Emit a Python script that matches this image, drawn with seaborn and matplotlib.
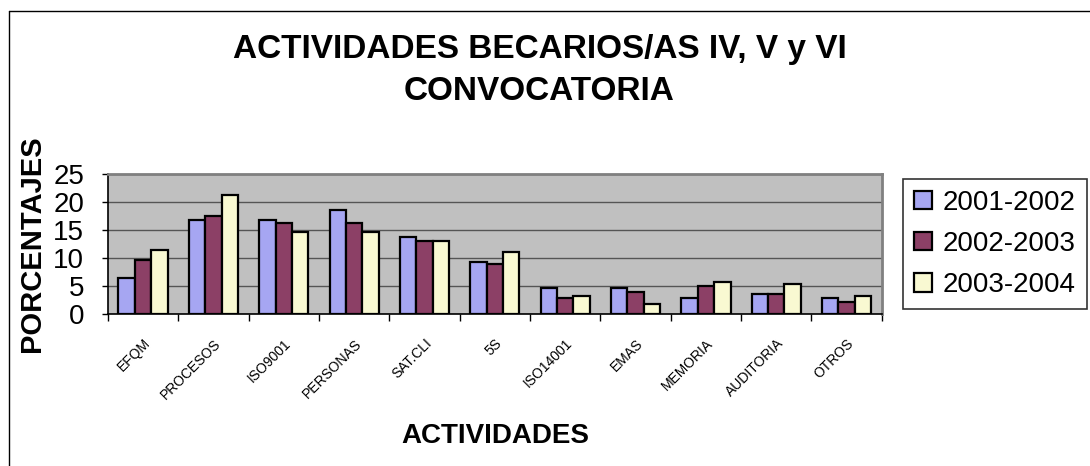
import numpy as np
import pandas as pd
import matplotlib
matplotlib.use("Agg")
import matplotlib.pyplot as plt
import seaborn as sns
from matplotlib.lines import Line2D

actividades = ["EFQM", "PROCESOS", "ISO9001", "PERSONAS", "SAT.CLI", "5S",
               "ISO14001", "EMAS", "MEMORIA", "AUDITORIA", "OTROS"]
cursos = ["2001-2002", "2002-2003", "2003-2004"]
v_2001 = [6.4, 16.7, 16.7, 18.5, 13.8, 9.2, 4.6, 4.6, 2.8, 3.6, 2.8]
v_2002 = [9.6, 17.4, 16.3, 16.3, 13.1, 8.9, 2.8, 3.9, 5.0, 3.6, 2.1]
v_2003 = [11.4, 21.3, 14.6, 14.6, 13.1, 11.0, 3.2, 1.8, 5.7, 5.3, 3.2]
colores = ["#9999FF", "#993366", "#FFFFCC"]

df = pd.DataFrame({
    "actividad": actividades * 3,
    "curso": np.repeat(cursos, len(actividades)),
    "valor": v_2001 + v_2002 + v_2003,
})

sns.set_style("white")
plt.rcParams["font.family"] = ["Liberation Sans", "DejaVu Sans"]
plt.rcParams["text.color"] = "black"
plt.rcParams["axes.labelcolor"] = "black"
plt.rcParams["xtick.color"] = "black"
plt.rcParams["ytick.color"] = "black"

fig = plt.figure(figsize=(10.9, 4.66), dpi=100)
ax = fig.add_axes([0.099, 0.326, 0.71, 0.301])
ax.set_facecolor("#C0C0C0")

sns.barplot(data=df, x="actividad", y="valor", hue="curso", palette=colores,
            width=0.7, edgecolor="black", linewidth=1.6, ax=ax, legend=True)

ax.set_ylim(0, 25)
ax.set_yticks([0, 5, 10, 15, 20, 25])
ax.set_xlim(-0.5, len(actividades) - 0.5)
ax.yaxis.grid(True, color="#555555", linewidth=1)
ax.set_axisbelow(True)
ax.tick_params(axis="y", labelsize=20, length=4, width=1, direction="out", left=True, pad=13)
ax.set_xticks(np.arange(len(actividades)))
ax.set_xticklabels(actividades, rotation=45, ha="right", rotation_mode="anchor",
                   fontsize=10)
ax.tick_params(axis="x", length=0, pad=16)
ax.set_xticks(np.arange(len(actividades) + 1) - 0.5, minor=True)
ax.tick_params(axis="x", which="minor", length=5, width=1, direction="out", bottom=True)
for s in ["left", "bottom"]:
    ax.spines[s].set_color("black")
    ax.spines[s].set_linewidth(1.2)
for s in ["top", "right"]:
    ax.spines[s].set_color("#808080")
    ax.spines[s].set_linewidth(2)

ax.set_xlabel("ACTIVIDADES", fontsize=20, fontweight="bold")
ax.set_ylabel("PORCENTAJES", fontsize=21, fontweight="bold")
ax.yaxis.set_label_coords(-0.08, 0.5)
ax.xaxis.set_label_coords(0.5, -0.78)

leg = ax.legend(loc="center left", bbox_to_anchor=(1.027, 0.5), fontsize=20,
                frameon=True, fancybox=False, edgecolor="black",
                handlelength=0.65, handleheight=0.65, labelspacing=0.55,
                borderpad=0.4, handletextpad=0.4, borderaxespad=0)
leg.get_frame().set_linewidth(1.2)

fig.text(0.495, 0.848, "ACTIVIDADES BECARIOS/AS IV, V y VI\nCONVOCATORIA",
         ha="center", va="center", fontsize=24, fontweight="bold", linespacing=1.45)

# outer chart border: only top and left edges are visible in the crop
fig.lines.append(Line2D([0.0078, 1.0], [0.976, 0.976], transform=fig.transFigure,
                        color="black", linewidth=1))
fig.lines.append(Line2D([0.0078, 0.0078], [0.0, 0.976], transform=fig.transFigure,
                        color="black", linewidth=1))

fig.savefig("out.png", dpi=100)
